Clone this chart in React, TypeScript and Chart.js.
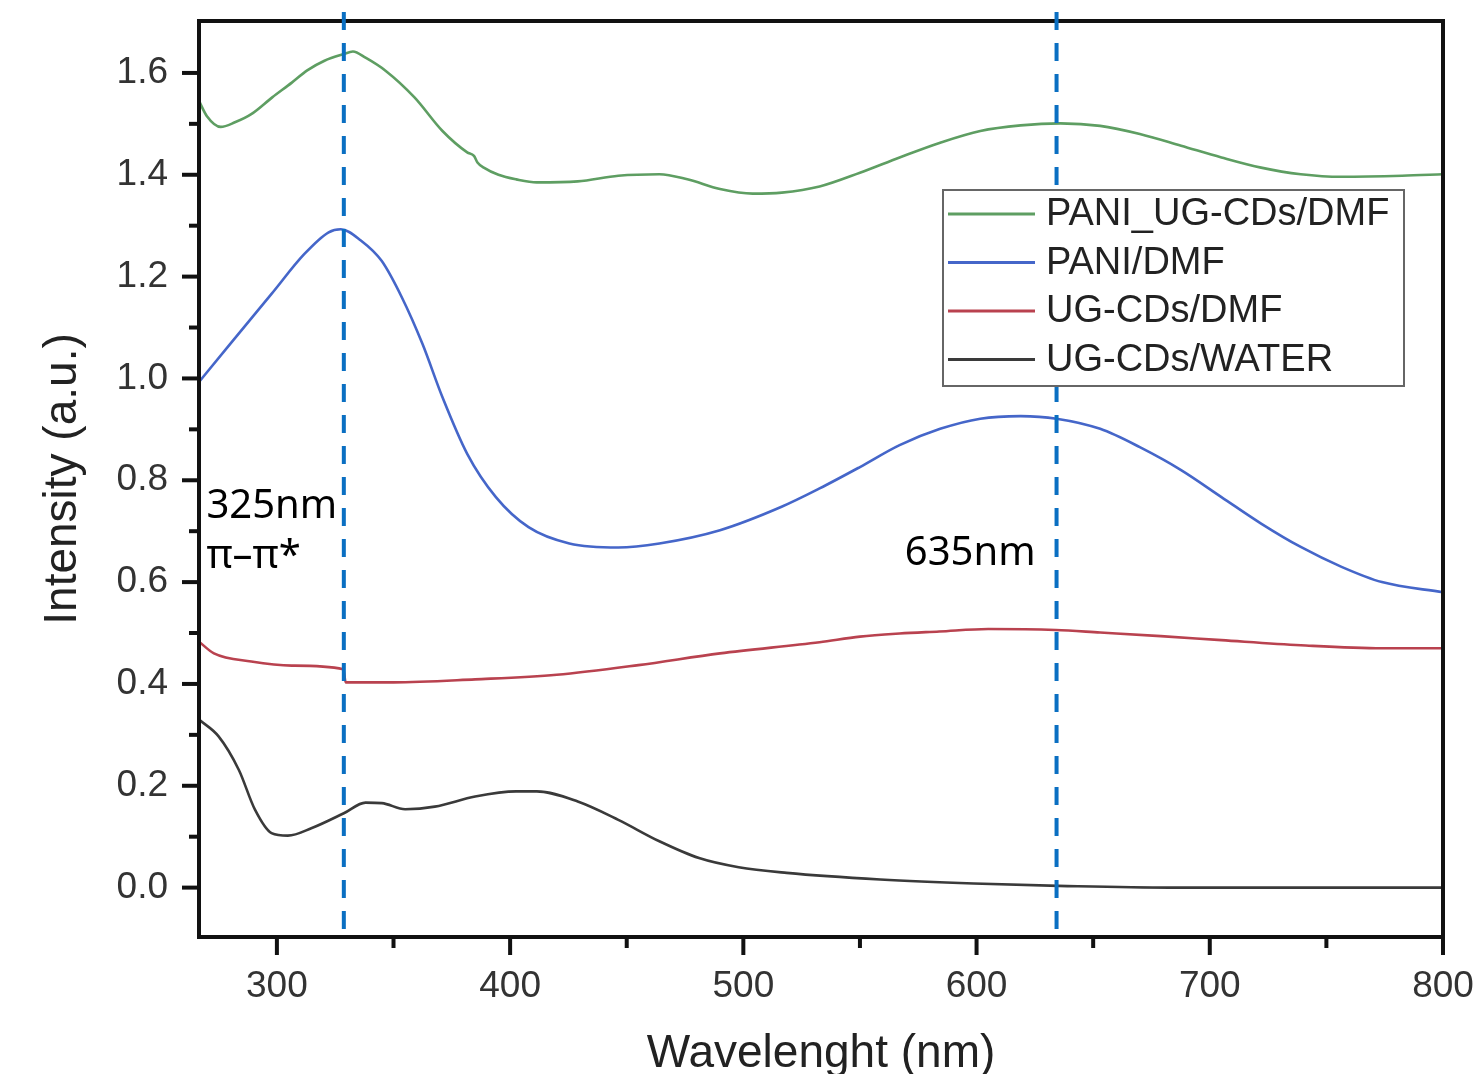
import React, { useEffect, useRef } from 'react';
import { Chart, registerables } from 'chart.js';

Chart.register(...registerables);

// ---------- data ----------
const seriesLabels = ['PANI_UG-CDs/DMF', 'PANI/DMF', 'UG-CDs/DMF', 'UG-CDs/WATER'];
const seriesColors = ['#5e9e62', '#4566c9', '#b9424f', '#3a3a3a'];

const greenWavelength = [266.6, 270, 275.9, 282, 289, 298, 306.4, 313, 320.4, 328.6, 332.6, 338, 346.7, 359, 371, 381.6, 384.5, 386, 388.7, 395, 402.6, 411.4, 429, 446.4, 464, 476, 490, 504, 516.5, 532.7, 550, 567, 584.4, 601.6, 618.9, 636, 653, 670, 687.7, 705, 722, 739, 756.5, 782.5, 800];
const greenIntensity = [1.545, 1.515, 1.494, 1.503, 1.519, 1.552, 1.581, 1.605, 1.624, 1.637, 1.642, 1.63, 1.604, 1.552, 1.486, 1.444, 1.437, 1.424, 1.414, 1.4, 1.391, 1.385, 1.387, 1.398, 1.401, 1.391, 1.372, 1.363, 1.365, 1.377, 1.404, 1.434, 1.463, 1.486, 1.497, 1.501, 1.496, 1.48, 1.457, 1.434, 1.414, 1.401, 1.396, 1.398, 1.401];

const blueWavelength = [266.6, 280, 297.7, 311.7, 322.2, 327.4, 336, 344.9, 353.6, 362.4, 371, 381.6, 393.9, 407.9, 425.4, 446.4, 464, 490, 516.4, 532.7, 550, 567, 584.4, 601.6, 618.9, 634.3, 653, 670, 687.7, 705, 722, 739, 756.5, 773.8, 800];
const blueIntensity = [0.993, 1.068, 1.166, 1.244, 1.287, 1.293, 1.271, 1.231, 1.159, 1.068, 0.963, 0.852, 0.767, 0.708, 0.676, 0.668, 0.676, 0.702, 0.748, 0.784, 0.826, 0.869, 0.901, 0.921, 0.926, 0.921, 0.901, 0.865, 0.82, 0.767, 0.715, 0.669, 0.63, 0.6, 0.58];

const redWavelength = [266.6, 273, 289, 306.4, 328.5, 329.5, 350, 385, 420, 455, 490, 532.7, 550, 567, 584, 605, 634, 653, 679, 705, 739, 774, 800];
const redIntensity = [0.483, 0.46, 0.444, 0.436, 0.429, 0.403, 0.403, 0.409, 0.418, 0.437, 0.46, 0.482, 0.493, 0.499, 0.503, 0.508, 0.506, 0.501, 0.494, 0.486, 0.476, 0.47, 0.47];

const blackWavelength = [266.6, 275, 283.7, 290.6, 297.7, 304.7, 315, 328.7, 338, 345, 355, 367.7, 385, 402.6, 411.4, 429, 446.4, 464, 481, 498, 518.6, 558.7, 598.8, 639, 683, 800];
const blackIntensity = [0.33, 0.297, 0.231, 0.153, 0.107, 0.102, 0.117, 0.146, 0.167, 0.166, 0.154, 0.159, 0.179, 0.189, 0.189, 0.169, 0.133, 0.091, 0.058, 0.04, 0.029, 0.016, 0.008, 0.003, 0.0, 0.0];

const markerWavelengths = [328.7, 634.3];
const xRange = [266.6, 800];
const yRange = [-0.097, 1.702];

const FONT = "'Liberation Sans', Arial, Helvetica, sans-serif";

const toPoints = (xs: number[], ys: number[]) => xs.map((x, i) => ({ x, y: ys[i] }));

const overlayPlugin = {
  id: 'overlay',
  afterDatasetsDraw(chart: any) {
    const { ctx, chartArea: a, scales } = chart;
    const xs = scales.x;
    const ys = scales.y;
    ctx.save();

    // frame
    ctx.strokeStyle = '#111';
    ctx.lineWidth = 4;
    ctx.lineCap = 'butt';
    ctx.strokeRect(a.left, a.top, a.right - a.left, a.bottom - a.top);

    // ticks
    ctx.lineWidth = 4;
    for (const t of xs.ticks) {
      const v = Math.round(t.value);
      if (v < 300 || v > 800) continue;
      const px = xs.getPixelForValue(t.value);
      const major = v % 100 === 0;
      ctx.beginPath();
      ctx.moveTo(px, a.bottom);
      ctx.lineTo(px, a.bottom + (major ? 18 : 11));
      ctx.stroke();
    }
    for (const t of ys.ticks) {
      const v = Math.round(t.value * 10);
      if (v < 0 || v > 16) continue;
      const py = ys.getPixelForValue(t.value);
      const major = v % 2 === 0;
      ctx.beginPath();
      ctx.moveTo(a.left, py);
      ctx.lineTo(a.left - (major ? 17 : 10), py);
      ctx.stroke();
    }

    // dashed marker lines
    ctx.strokeStyle = '#0a6fc2';
    ctx.lineWidth = 4;
    ctx.setLineDash([18, 13]);
    for (const w of markerWavelengths) {
      const px = xs.getPixelForValue(w);
      ctx.beginPath();
      ctx.moveTo(px, a.top - 9);
      ctx.lineTo(px, a.bottom);
      ctx.stroke();
    }
    ctx.setLineDash([]);

    // annotation texts
    ctx.fillStyle = '#000';
    ctx.font = "40px 'Noto Sans', 'Open Sans', sans-serif";
    ctx.textBaseline = 'alphabetic';
    ctx.textAlign = 'left';
    ctx.fillText('325nm', xs.getPixelForValue(269.8), ys.getPixelForValue(0.7255));
    ctx.fillText('π–π*', xs.getPixelForValue(269.8), ys.getPixelForValue(0.627));
    ctx.textAlign = 'right';
    ctx.fillText('635nm', xs.getPixelForValue(625.3), ys.getPixelForValue(0.633));

    // legend
    const lx = 943, ly = 190, lw = 461, lh = 196;
    ctx.fillStyle = '#fff';
    ctx.fillRect(lx, ly, lw, lh);
    ctx.strokeStyle = '#666';
    ctx.lineWidth = 2;
    ctx.strokeRect(lx, ly, lw, lh);
    ctx.font = `38px ${FONT}`;
    ctx.textAlign = 'left';
    ctx.textBaseline = 'middle';
    chart.data.datasets.forEach((ds: any, i: number) => {
      const cy = ly + 24 + i * 48.5;
      ctx.strokeStyle = ds.borderColor;
      ctx.lineWidth = 3;
      ctx.beginPath();
      ctx.moveTo(lx + 5, cy);
      ctx.lineTo(lx + 92, cy);
      ctx.stroke();
      ctx.fillStyle = '#222';
      ctx.fillText(ds.label, lx + 103, cy + 1);
    });

    ctx.restore();
  },
};

export default function App() {
  const canvasRef = useRef<HTMLCanvasElement | null>(null);

  useEffect(() => {
    if (!canvasRef.current) return;
    const wl = [greenWavelength, blueWavelength, redWavelength, blackWavelength];
    const it = [greenIntensity, blueIntensity, redIntensity, blackIntensity];
    const chart = new Chart(canvasRef.current, {
      type: 'line',
      data: {
        datasets: seriesLabels.map((label, i) => ({
          label,
          data: toPoints(wl[i], it[i]),
          borderColor: seriesColors[i],
          backgroundColor: seriesColors[i],
          borderWidth: 2.6,
          pointRadius: 0,
          cubicInterpolationMode: 'monotone' as const,
          fill: false,
        })),
      },
      options: {
        animation: false,
        responsive: false,
        devicePixelRatio: 1,
        layout: { padding: { left: 0, right: 32, top: 21, bottom: 0 } },
        plugins: { legend: { display: false }, tooltip: { enabled: false } },
        scales: {
          x: {
            type: 'linear',
            min: xRange[0],
            max: xRange[1],
            afterFit: (s: any) => {
              s.height = 137;
              s.paddingLeft = 0;
              s.paddingRight = 0;
              s.paddingTop = 0;
              s.paddingBottom = 0;
            },
            grid: { display: true, drawOnChartArea: false, drawTicks: true, tickLength: 18, tickColor: 'rgba(0,0,0,0)', color: 'rgba(0,0,0,0)' },
            border: { display: false },
            ticks: {
              stepSize: 50,
              includeBounds: false,
              autoSkip: false,
              maxRotation: 0,
              padding: 10,
              color: '#333',
              font: { family: FONT, size: 37 },
              callback: (value: any) => (Math.round(value) % 100 === 0 ? String(Math.round(value)) : ''),
            },
            title: {
              display: true,
              text: 'Wavelenght (nm)',
              color: '#222',
              font: { family: FONT, size: 46, lineHeight: 0.8 },
              padding: { top: 0, bottom: 1 },
            },
          },
          y: {
            type: 'linear',
            min: yRange[0],
            max: yRange[1],
            afterFit: (s: any) => {
              s.width = 199;
              s.paddingTop = 0;
              s.paddingBottom = 0;
              s.paddingLeft = 0;
              s.paddingRight = 0;
            },
            grid: { display: true, drawOnChartArea: false, drawTicks: true, tickLength: 17, tickColor: 'rgba(0,0,0,0)', color: 'rgba(0,0,0,0)' },
            border: { display: false },
            ticks: {
              stepSize: 0.1,
              includeBounds: false,
              autoSkip: false,
              padding: 14,
              color: '#333',
              font: { family: FONT, size: 37 },
              callback: (value: any) => {
                const v = Math.round(value * 10);
                if (v < 0 || v > 16 || v % 2 !== 0) return '';
                return (v / 10).toFixed(1);
              },
            },
            title: {
              display: true,
              text: 'Intensity (a.u.)',
              color: '#222',
              font: { family: FONT, size: 46, lineHeight: 1 },
              padding: { top: 40, bottom: 0 },
            },
          },
        },
      },
      plugins: [overlayPlugin],
    });
    return () => chart.destroy();
  }, []);

  return (
    <div style={{ position: 'fixed', left: 0, top: 0, width: 1475, height: 1074, background: '#fff' }}>
      <canvas ref={canvasRef} width={1475} height={1074} style={{ width: 1475, height: 1074, display: 'block' }} />
    </div>
  );
}
